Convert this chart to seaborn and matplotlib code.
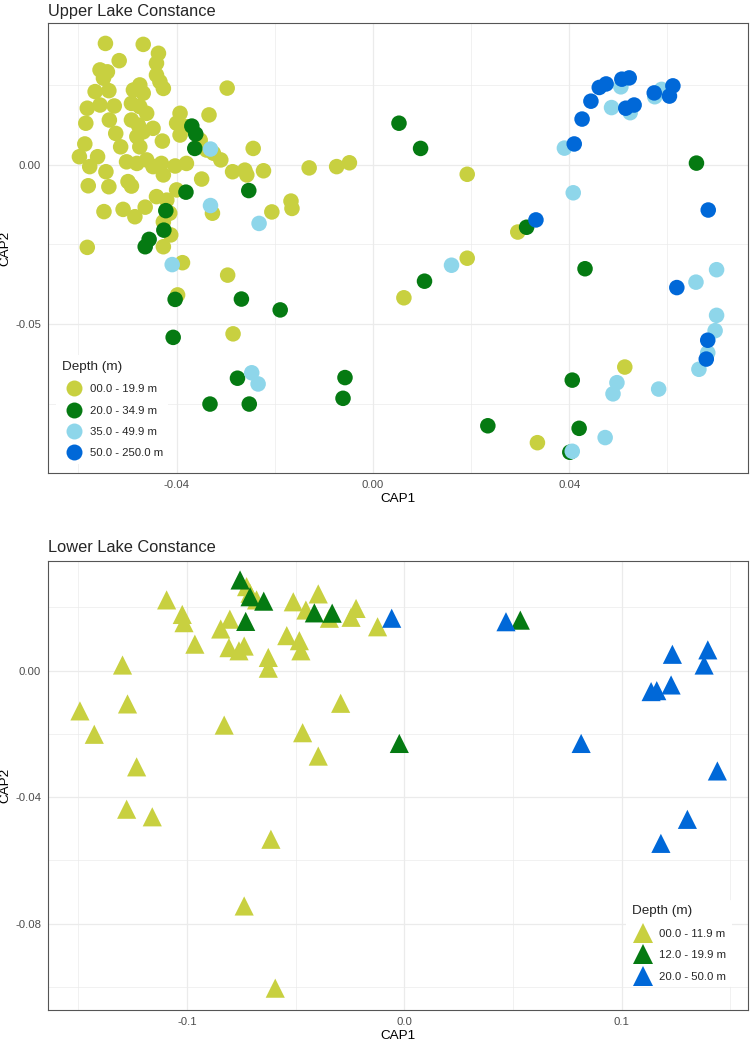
import pandas as pd
import seaborn as sns
import matplotlib.pyplot as plt
from matplotlib.lines import Line2D

# Upper Lake Constance, CAP scores per depth class
upper_labels = ["00.0 - 19.9 m", "20.0 - 34.9 m", "35.0 - 49.9 m", "50.0 - 250.0 m"]

upper_cap1_a = [
    -0.0545, -0.0468, -0.0437, -0.0441, -0.0517, -0.0556, -0.0541, -0.0549, -0.0441, -0.0434,
    -0.0427, -0.0566, -0.0538, -0.0475, -0.0488, -0.0468, -0.0297, -0.0582, -0.0556, -0.0527,
    -0.0492, -0.0475, -0.0461, -0.0585, -0.0537, -0.0492, -0.0478, -0.0448, -0.0393, -0.0334,
    -0.0400, -0.0380, -0.0393, -0.0524, -0.0481, -0.0468, -0.0429, -0.0587, -0.0514, -0.0475,
    -0.0352, -0.0339, -0.0325, -0.0310, -0.0244, -0.0598, -0.0561, -0.0577, -0.0544, -0.0502,
    -0.0481, -0.0461, -0.0448, -0.0431, -0.0427, -0.0403, -0.0380, -0.0286, -0.0261, -0.0257,
    -0.0223, -0.0130, -0.0074, -0.0048, -0.0580, -0.0538, -0.0499, -0.0492, -0.0400, -0.0349,
    -0.0441, -0.0420, -0.0548, -0.0509, -0.0485, -0.0464, -0.0414, -0.0427, -0.0327, -0.0206,
    -0.0167, -0.0165, -0.0412, -0.0427, -0.0582, -0.0388, -0.0296, -0.0398, -0.0285, 0.0192,
    0.0295, 0.0192, 0.0063, 0.0513, 0.0335,
]
upper_cap2_a = [
    0.0380, 0.0377, 0.0349, 0.0318, 0.0326, 0.0297, 0.0291, 0.0271, 0.0281, 0.0260,
    0.0239, 0.0229, 0.0232, 0.0250, 0.0234, 0.0224, 0.0240, 0.0177, 0.0187, 0.0184,
    0.0192, 0.0182, 0.0161, 0.0130, 0.0140, 0.0140, 0.0124, 0.0114, 0.0161, 0.0156,
    0.0130, 0.0119, 0.0093, 0.0098, 0.0088, 0.0103, 0.0074, 0.0065, 0.0056, 0.0056,
    0.0077, 0.0046, 0.0036, 0.0015, 0.0051, 0.0025, 0.0025, -0.0006, -0.0022, 0.0009,
    0.0004, 0.0015, -0.0006, 0.0004, -0.0032, -0.0004, 0.0004, -0.0022, -0.0017, -0.0032,
    -0.0019, -0.0010, -0.0006, 0.0006, -0.0066, -0.0069, -0.0053, -0.0067, -0.0079, -0.0045,
    -0.0100, -0.0111, -0.0147, -0.0140, -0.0163, -0.0133, -0.0152, -0.0179, -0.0152, -0.0148,
    -0.0114, -0.0137, -0.0220, -0.0257, -0.0259, -0.0307, -0.0346, -0.0408, -0.0530, -0.0030,
    -0.0211, -0.0293, -0.0417, -0.0634, -0.0871,
]

upper_cap1_b = [
    -0.0369, -0.0361, -0.0363, -0.0381, -0.0253, -0.0422, -0.0426, -0.0456, -0.0464, -0.0403,
    -0.0268, -0.0189, -0.0407, -0.0276, -0.0332, -0.0252, -0.0057, -0.0061, 0.0053, 0.0097,
    0.0659, 0.0313, 0.0432, 0.0105, 0.0406, 0.0234, 0.0420, 0.0401,
]
upper_cap2_b = [
    0.0121, 0.0096, 0.0051, -0.0086, -0.0081, -0.0144, -0.0205, -0.0234, -0.0257, -0.0422,
    -0.0421, -0.0455, -0.0541, -0.0669, -0.0750, -0.0750, -0.0667, -0.0732, 0.0130, 0.0051,
    0.0005, -0.0196, -0.0326, -0.0365, -0.0675, -0.0818, -0.0826, -0.0901,
]

upper_cap1_c = [
    -0.0331, -0.0331, -0.0232, -0.0409, -0.0247, -0.0234, 0.0390, 0.0408, 0.0160, 0.0505,
    0.0486, 0.0524, 0.0574, 0.0588, 0.0700, 0.0658, 0.0700, 0.0697, 0.0682, 0.0664,
    0.0497, 0.0489, 0.0582, 0.0473, 0.0406,
]
upper_cap2_c = [
    0.0049, -0.0128, -0.0184, -0.0313, -0.0652, -0.0687, 0.0052, -0.0088, -0.0315, 0.0244,
    0.0179, 0.0163, 0.0213, 0.0236, -0.0329, -0.0368, -0.0472, -0.0520, -0.0589, -0.0641,
    -0.0683, -0.0718, -0.0703, -0.0855, -0.0898,
]

upper_cap1_d = [
    0.0410, 0.0426, 0.0444, 0.0461, 0.0475, 0.0507, 0.0522, 0.0515, 0.0532, 0.0573,
    0.0604, 0.0611, 0.0332, 0.0683, 0.0619, 0.0682, 0.0679,
]
upper_cap2_d = [
    0.0065, 0.0143, 0.0199, 0.0242, 0.0253, 0.0268, 0.0272, 0.0177, 0.0187, 0.0225,
    0.0215, 0.0247, -0.0173, -0.0142, -0.0385, -0.0550, -0.0609,
]

# Lower Lake Constance
lower_labels = ["00.0 - 11.9 m", "12.0 - 19.9 m", "20.0 - 50.0 m"]

lower_cap1_a = [
    -0.1094, -0.1022, -0.1014, -0.0964, -0.0845, -0.0803, -0.0807, -0.0761, -0.0737, -0.0726,
    -0.0710, -0.0680, -0.0626, -0.0626, -0.0541, -0.0511, -0.0483, -0.0476, -0.0453, -0.0396,
    -0.0345, -0.0245, -0.0222, -0.0123, -0.1297, -0.1274, -0.1493, -0.1427, -0.1232, -0.1278,
    -0.1160, -0.0829, -0.0468, -0.0396, -0.0293, -0.0614, -0.0737, -0.0594,
]
lower_cap2_a = [
    0.0224, 0.0178, 0.0152, 0.0084, 0.0132, 0.0163, 0.0073, 0.0063, 0.0078, 0.0266,
    0.0245, 0.0224, 0.0042, 0.0008, 0.0111, 0.0218, 0.0095, 0.0063, 0.0192, 0.0243,
    0.0166, 0.0169, 0.0197, 0.0139, 0.0018, -0.0105, -0.0127, -0.0201, -0.0304, -0.0438,
    -0.0462, -0.0172, -0.0196, -0.0270, -0.0103, -0.0533, -0.0744, -0.1004,
]

lower_cap1_b = [-0.0756, -0.0710, -0.0647, -0.0730, -0.0414, -0.0332, 0.0534, -0.0023]
lower_cap2_b = [0.0287, 0.0234, 0.0220, 0.0156, 0.0183, 0.0182, 0.0160, -0.0230]

lower_cap1_c = [
    -0.0058, 0.0468, 0.1234, 0.1397, 0.1380, 0.1136, 0.1162, 0.1228, 0.0814, 0.1441,
    0.1303, 0.1181,
]
lower_cap2_c = [
    0.0166, 0.0155, 0.0052, 0.0066, 0.0018, -0.0066, -0.0063, -0.0045, -0.0230, -0.0317,
    -0.0470, -0.0546,
]

depth_colors = ["#C8D040", "#057A12", "#8ED6EA", "#0068D8"]


def build_frame(columns, labels):
    """
    Stack the per-depth arrays into one long data frame.
    """
    rows = []
    for label, (xs, ys) in zip(labels, columns):
        for x, y in zip(xs, ys):
            rows.append([label, x, y])
    return pd.DataFrame(rows, columns=["depth", "CAP1", "CAP2"])


def style_axes(ax, xlim, ylim, xmajor, xminor, ymajor, yminor, xfmt, yfmt):
    ax.set_xlim(*xlim)
    ax.set_ylim(*ylim)
    ax.set_xticks(xmajor)
    ax.set_xticklabels([xfmt % v for v in xmajor])
    ax.set_yticks(ymajor)
    ax.set_yticklabels([yfmt % v for v in ymajor])
    ax.set_xticks(xminor, minor=True)
    ax.set_yticks(yminor, minor=True)
    ax.grid(which="major", color="#EBEBEB", linewidth=0.9, zorder=0)
    ax.grid(which="minor", color="#EBEBEB", linewidth=0.5, zorder=0)
    ax.set_axisbelow(True)
    ax.tick_params(which="major", length=3, width=0.7, color="#333333",
                   labelsize=8.2, labelcolor="#4D4D4D", pad=2)
    ax.tick_params(which="minor", length=0)
    for sp in ax.spines.values():
        sp.set_color("#555555")
        sp.set_linewidth(0.8)
    ax.set_xlabel("CAP1", fontsize=9.7, color="black", labelpad=2)
    ax.set_ylabel("CAP2", fontsize=9.7, color="black")
    # keep the rotated label inside the canvas, as in the reference
    ax.yaxis.set_label_coords(-0.052, 0.5)


def add_legend(ax, labels, palette, marker, msize, loc, anchor):
    handles = [Line2D([], [], marker=marker, linestyle="", markersize=msize,
                      markerfacecolor=palette[l], markeredgewidth=0) for l in labels]
    leg = ax.legend(handles, labels, title="Depth (m)", loc=loc,
                    bbox_to_anchor=anchor, fontsize=8.2, title_fontsize=9.7,
                    frameon=True, facecolor="white", edgecolor="none", framealpha=1,
                    handletextpad=0.4, labelspacing=1.0, borderpad=0.5)
    leg._legend_box.align = "left"
    leg.set_zorder(5)
    return leg


sns.set_style("white")
plt.rcParams["font.family"] = ["Liberation Sans", "DejaVu Sans"]

upper = build_frame(
    [(upper_cap1_a, upper_cap2_a), (upper_cap1_b, upper_cap2_b),
     (upper_cap1_c, upper_cap2_c), (upper_cap1_d, upper_cap2_d)],
    upper_labels,
)
lower = build_frame(
    [(lower_cap1_a, lower_cap2_a), (lower_cap1_b, lower_cap2_b),
     (lower_cap1_c, lower_cap2_c)],
    lower_labels,
)

fig = plt.figure(figsize=(7.5, 10.41), dpi=100)
ax1 = fig.add_axes([48 / 750, 568 / 1041, 700 / 750, 450 / 1041])
ax2 = fig.add_axes([48 / 750, 31 / 1041, 700 / 750, 449.3 / 1041])

upper_palette = dict(zip(upper_labels, depth_colors))
sns.scatterplot(data=upper, x="CAP1", y="CAP2", hue="depth", hue_order=upper_labels,
                palette=upper_palette, marker="o", s=125, linewidth=0, alpha=1,
                legend=False, ax=ax1, zorder=3)
style_axes(ax1, (-0.0662, 0.0764), (-0.0966, 0.0444),
           [-0.04, 0.0, 0.04], [-0.06, -0.02, 0.02, 0.06],
           [-0.05, 0.0], [-0.075, -0.025, 0.025], "%.2f", "%.2f")
ax1.set_title("Upper Lake Constance", loc="left", fontsize=11.8, pad=5)
add_legend(ax1, upper_labels, upper_palette, "o", 11.5, "lower left", (0.004, 0.007))

lower_palette = dict(zip(lower_labels, [depth_colors[0], depth_colors[1], depth_colors[3]]))
sns.scatterplot(data=lower, x="CAP1", y="CAP2", hue="depth", hue_order=lower_labels,
                palette=lower_palette, marker="^", s=190, linewidth=0, alpha=1,
                legend=False, ax=ax2, zorder=3)
style_axes(ax2, (-0.164, 0.1582), (-0.1073, 0.0348),
           [-0.1, 0.0, 0.1], [-0.15, -0.05, 0.05, 0.15],
           [-0.08, -0.04, 0.0], [-0.10, -0.06, -0.02, 0.02], "%.1f", "%.2f")
ax2.set_title("Lower Lake Constance", loc="left", fontsize=11.8, pad=6)
add_legend(ax2, lower_labels, lower_palette, "^", 14, "lower right", (0.985, 0.038))

plt.savefig("out.png", dpi=100)
